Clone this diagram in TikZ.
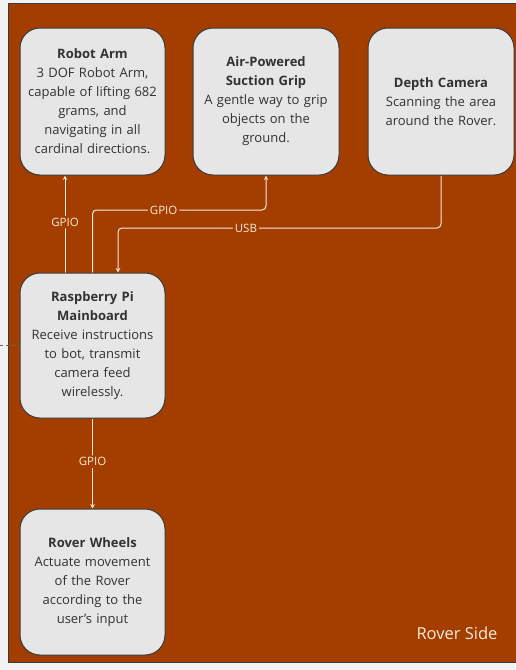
\documentclass[tikz,border=0pt]{standalone}
\usepackage{fontspec}
\setmainfont{Open Sans}
\usepackage{tikz}
\usetikzlibrary{backgrounds}
\definecolor{rover}{RGB}{163,62,0}
\definecolor{boxgrey}{RGB}{230,230,230}
\definecolor{boxline}{RGB}{58,58,58}
\definecolor{textgrey}{RGB}{50,50,50}
\definecolor{wire}{RGB}{246,234,218}
\definecolor{outer}{RGB}{242,242,242}
\definecolor{dashgrey}{RGB}{100,100,100}
\pgfdeclarelayer{framelayer}
\pgfdeclarelayer{edgelayer}
\pgfdeclarelayer{nodelayer}
\pgfsetlayers{framelayer,edgelayer,nodelayer,main}
\tikzstyle{block}=[rectangle,rounded corners=20pt,fill=boxgrey,draw=boxline,line width=1pt,minimum width=145pt,minimum height=147pt,text width=144pt,align=center,text=textgrey,inner sep=0pt,font=\fontsize{13}{19}\selectfont]
\tikzstyle{inarrow}=[->,>=stealth,draw=wire,line width=1pt,rounded corners=4pt]
\tikzstyle{tag}=[fill=rover,text=wire,inner sep=2pt,font=\fontsize{11.5}{13}\selectfont]
\tikzstyle{sidetag}=[text=wire,inner sep=0pt,font=\fontsize{16.5}{19}\selectfont]

\begin{document}
\begin{tikzpicture}[x=1pt,y=-1pt]
	\useasboundingbox (0,0) rectangle (515,670);
	\clip (0,0) rectangle (515,670);
	\begin{pgfonlayer}{framelayer}
		\fill [outer] (0,0) rectangle (515,670);
		\draw [fill=rover,draw=boxline,line width=1pt] (8,3) rectangle (530,662);
	\end{pgfonlayer}
	\begin{pgfonlayer}{nodelayer}
		\node [style=block] (0) at (92.5,101.5) {{\bfseries Robot Arm}\\3 DOF Robot Arm,\\capable of lifting 682\\grams, and\\navigating in all\\cardinal directions.};
		\node [style=block, minimum width=146pt] (1) at (266,101.5) {{\bfseries Air-Powered}\\{\bfseries Suction Grip}\\A gentle way to grip\\objects on the\\ground.};
		\node [style=block, minimum width=146pt] (2) at (441,101.5) {{\bfseries Depth Camera}\\Scanning the area\\around the Rover.};
		\node [style=block, minimum height=145pt] (3) at (92.5,345.5) {{\bfseries Raspberry Pi}\\{\bfseries Mainboard}\\Receive instructions\\to bot, transmit\\camera feed\\wirelessly.};
		\node [style=block, minimum height=146pt] (4) at (92.5,582) {{\bfseries Rover Wheels}\\Actuate movement\\of the Rover\\according to the\\user{\char"0027}s input};
		\node [style=sidetag, anchor=center] (5) at (457,633) {Rover Side};
		\coordinate (6) at (0,345.5);
	\end{pgfonlayer}
	\begin{pgfonlayer}{edgelayer}
		\draw [style=inarrow] ([xshift=-27.5pt]3.north) to node [style=tag, pos=0.52] (7) {GPIO} ([xshift=-27.5pt]0.south);
		\draw [style=inarrow] (3.north) -- (3.north |- 0,210) -- node [style=tag, pos=0.41] (8) {GPIO} (1.south |- 0,210) -- (1.south);
		\draw [style=inarrow] (2.south) -- (2.south |- 0,228) -- node [style=tag, pos=0.604] (9) {USB} ([xshift=25.5pt]3.north |- 0,228) -- ([xshift=25.5pt]3.north);
		\draw [style=inarrow] (3.south) to node [style=tag, pos=0.48] (10) {GPIO} (4.north);
		\draw [draw=dashgrey, dashed, line width=0.8pt] (6) -- (3.west);
	\end{pgfonlayer}
\end{tikzpicture}
\end{document}
